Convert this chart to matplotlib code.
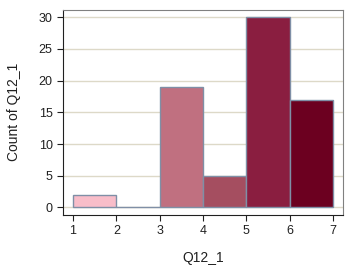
import matplotlib
matplotlib.use("Agg")
import matplotlib.pyplot as plt

bin_left = [1, 2, 3, 4, 5, 6]
counts = [2, 0, 19, 5, 30, 17]
colors = ["#F8BDC9", "#E0A0B0", "#C07080", "#A54E60", "#8A1E40", "#6C0020"]
xticks = [1, 2, 3, 4, 5, 6, 7]
yticks = [0, 5, 10, 15, 20, 25, 30]

plt.rcParams['font.family'] = ['Liberation Sans', 'DejaVu Sans']
fig = plt.figure(figsize=(3.58, 2.69), dpi=100)
ax = fig.add_axes([63/358, 1-215/269, 280/358, 205.3/269])

ax.bar(bin_left, counts, width=1, align='edge', color=colors,
       edgecolor="#7F8FA6", linewidth=1.0, zorder=3)
ax.set_xlim(0.77, 7.23)
ax.set_ylim(-1.2, 31.2)
ax.set_xticks(xticks)
ax.set_yticks(yticks)
ax.yaxis.grid(True, color="#DDD9C8", linewidth=1.0, zorder=0)
ax.set_axisbelow(True)
for s in ['top', 'right']:
    ax.spines[s].set_color("#808080")
for s in ['left', 'bottom']:
    ax.spines[s].set_color("#202020")
ax.tick_params(labelsize=9, length=4, color="#202020", labelcolor="#202020")
ax.set_xlabel("Q12_1", fontsize=10, color="#202020", labelpad=10)
ax.set_ylabel("Count of Q12_1", fontsize=10, color="#202020", labelpad=13)
fig.savefig("out.png", dpi=100)
